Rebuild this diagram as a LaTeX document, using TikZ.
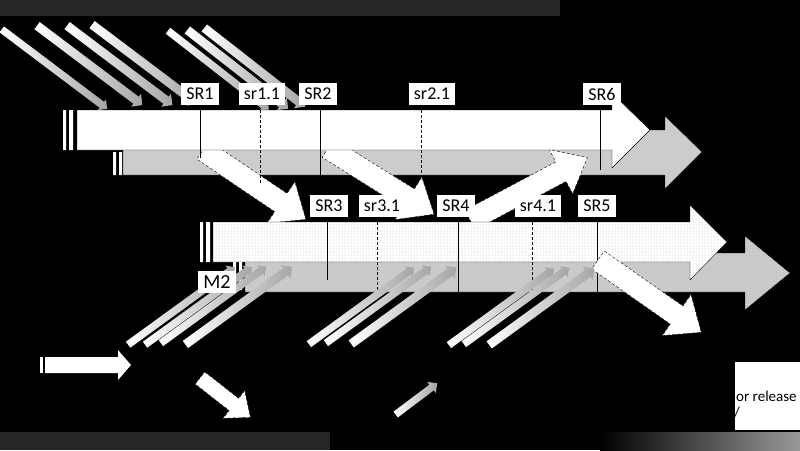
\documentclass[tikz,border=0pt]{standalone}
\usepackage{fontspec}
\setmainfont{Carlito}
\usetikzlibrary{shapes.arrows,patterns}
\newcommand\wideArrow[6]{% name, x, y, angle, length, scale
 \begin{scope}[shift={(#2,#3)},rotate=#4,scale=#6]
 \draw[fill=white,draw=black,densely dashed,thin] (0,-11)--(#5/#6-30,-11)--(#5/#6-30,-25)--(#5/#6,0)--(#5/#6-30,25)--(#5/#6-30,11)--(0,11)--cycle;
 \coordinate (#1) at (#5/#6,0);
 \end{scope}}
\begin{document}
\begin{tikzpicture}[x=1pt,y=-1pt,
 lbl/.style={fill=white,inner xsep=5pt,inner ysep=5pt,font=\fontsize{18pt}{18pt}\selectfont},
 garr/.style={single arrow,draw=none,left color=white,right color=gray!70,minimum width=16pt,single arrow head extend=3pt,single arrow head indent=0pt,inner sep=0pt,text height=7pt,anchor=center},
 dotfill/.style={pattern=dots,pattern color=gray!60}]
\fill[black] (0,0) rectangle (800,450);
\useasboundingbox (0,0) rectangle (800,450);
\fill[black!85!white] (0,0) rectangle (560,16);
\fill[black!85!white] (0,432) rectangle (330,450);
\shade[left color=black,right color=gray!80] (600,432) rectangle (800,450);
% top gradient arrows
\node[garr,rotate=-37,minimum height=132pt,minimum width=12pt] (g1) at (53,68) {};
\node[garr,rotate=-37,minimum height=132pt] (g2) at (88,64) {};
\node[garr,rotate=-37,minimum height=132pt] (g3) at (118,64) {};
\node[garr,rotate=-37,minimum height=132pt] (g4) at (143,63) {};
\node[garr,rotate=-38,minimum height=128pt,minimum width=12pt] (g5) at (217,69) {};
\node[garr,rotate=-38,minimum height=128pt] (g6) at (236,68) {};
\node[garr,rotate=-38,minimum height=128pt] (g7) at (253,66) {};
% shadow arrow 1
\draw[fill=gray!40,draw=black] (123,130)--(665,130)--(665,116)--(702,152)--(665,189)--(665,175)--(123,175)--cycle;
\fill[white] (113,152) rectangle (116,175) (119,152) rectangle (122,175);
% white diagonal arrows (behind main arrow 1)
\wideArrow{w1}{203}{150}{-34}{124}{1}
\wideArrow{w2}{328}{148}{-32}{125}{1}
\wideArrow{w3}{470}{220}{28}{133}{1}
% main arrow 1
\draw[fill=white,draw=black] (77,110)--(612,110)--(612,93)--(650,130)--(612,168)--(612,150)--(77,150)--cycle;
\fill[white] (63,110) rectangle (66,150) (69,110) rectangle (73,150);
% shadow arrow 2
\draw[fill=gray!40,draw=black] (245,253)--(745,253)--(745,236)--(790,273)--(745,310)--(745,292)--(245,292)--cycle;
\path[dotfill] (245,253)--(745,253)--(745,236)--(790,273)--(745,310)--(745,292)--(245,292)--cycle;
% main arrow 2
\draw[fill=white,draw=black] (213,222)--(690,222)--(690,205)--(727,242)--(690,280)--(690,262)--(213,262)--cycle;
\path[dotfill] (213,222)--(690,222)--(690,205)--(727,242)--(690,280)--(690,262)--(213,262)--cycle;
\fill[white] (200,222) rectangle (203,262) (206,222) rectangle (210,262);
\fill[white] (233,262) rectangle (236,290) (239,262) rectangle (242,290);
% verticals
\draw (200,110)--(200,158) (320,110)--(320,175) (600,110)--(600,170);
\draw[densely dashed] (260,110)--(260,185) (421,110)--(421,175);
\draw (327,222)--(327,280) (458,222)--(458,292) (597,222)--(597,292);
\draw[densely dashed] (377,222)--(377,290) (532,222)--(532,292);
\wideArrow{w4}{598}{260}{-35}{126}{1}
% bottom gradient arrows
\node[garr,rotate=36,minimum height=132pt,minimum width=12pt] (b1) at (180,307) {};
\node[garr,rotate=36,minimum height=132pt,minimum width=12pt] (b2) at (197,307) {};
\node[garr,rotate=36,minimum height=130pt,minimum width=12pt] (b3) at (212,306) {};
\node[garr,rotate=36,minimum height=132pt] (b4) at (237,307) {};
\node[garr,rotate=36,minimum height=130pt,minimum width=12pt] (b5) at (360,307) {};
\node[garr,rotate=36,minimum height=130pt,minimum width=12pt] (b6) at (377,306) {};
\node[garr,rotate=36,minimum height=130pt] (b7) at (402,307) {};
\node[garr,rotate=36,minimum height=130pt,minimum width=12pt] (b8) at (500,308) {};
\node[garr,rotate=36,minimum height=130pt,minimum width=12pt] (b9) at (515,307) {};
\node[garr,rotate=36,minimum height=130pt] (b10) at (540,308) {};
% labels
\node[lbl] (sr1) at (200,94) {SR1};
\node[lbl] (sr11) at (262,94) {sr1.1};
\node[lbl] (sr2) at (318,94) {SR2};
\node[lbl] (sr21) at (432,94) {sr2.1};
\node[lbl] (sr6) at (602,94) {SR6};
\node[lbl] (sr3) at (329,206) {SR3};
\node[lbl] (sr31) at (382,206) {sr3.1};
\node[lbl] (sr4) at (456,206) {SR4};
\node[lbl] (sr41) at (538,206) {sr4.1};
\node[lbl] (sr5) at (597,206) {SR5};
\node[lbl,font=\fontsize{20pt}{20pt}\selectfont] (m2) at (217,282) {M2};
% legend
\fill[white] (40,357) rectangle (43,373);
\fill[white] (45,357)--(118,357)--(118,350)--(131,365)--(118,380)--(118,373)--(45,373)--cycle;
\wideArrow{lw}{200}{378}{-38}{64}{0.7}
\node[garr,rotate=37,minimum height=52pt,minimum width=14pt,text height=6pt] (lg) at (415,400) {};
\fill[white] (735,362) rectangle (800,430);
\node[font=\fontsize{15pt}{15pt}\selectfont,anchor=west,inner sep=0pt] (t1) at (736,396) {or release};
\node[font=\fontsize{15pt}{15pt}\selectfont,anchor=west,inner sep=0pt] (t2) at (734,413) {/};
\end{tikzpicture}
\end{document}
